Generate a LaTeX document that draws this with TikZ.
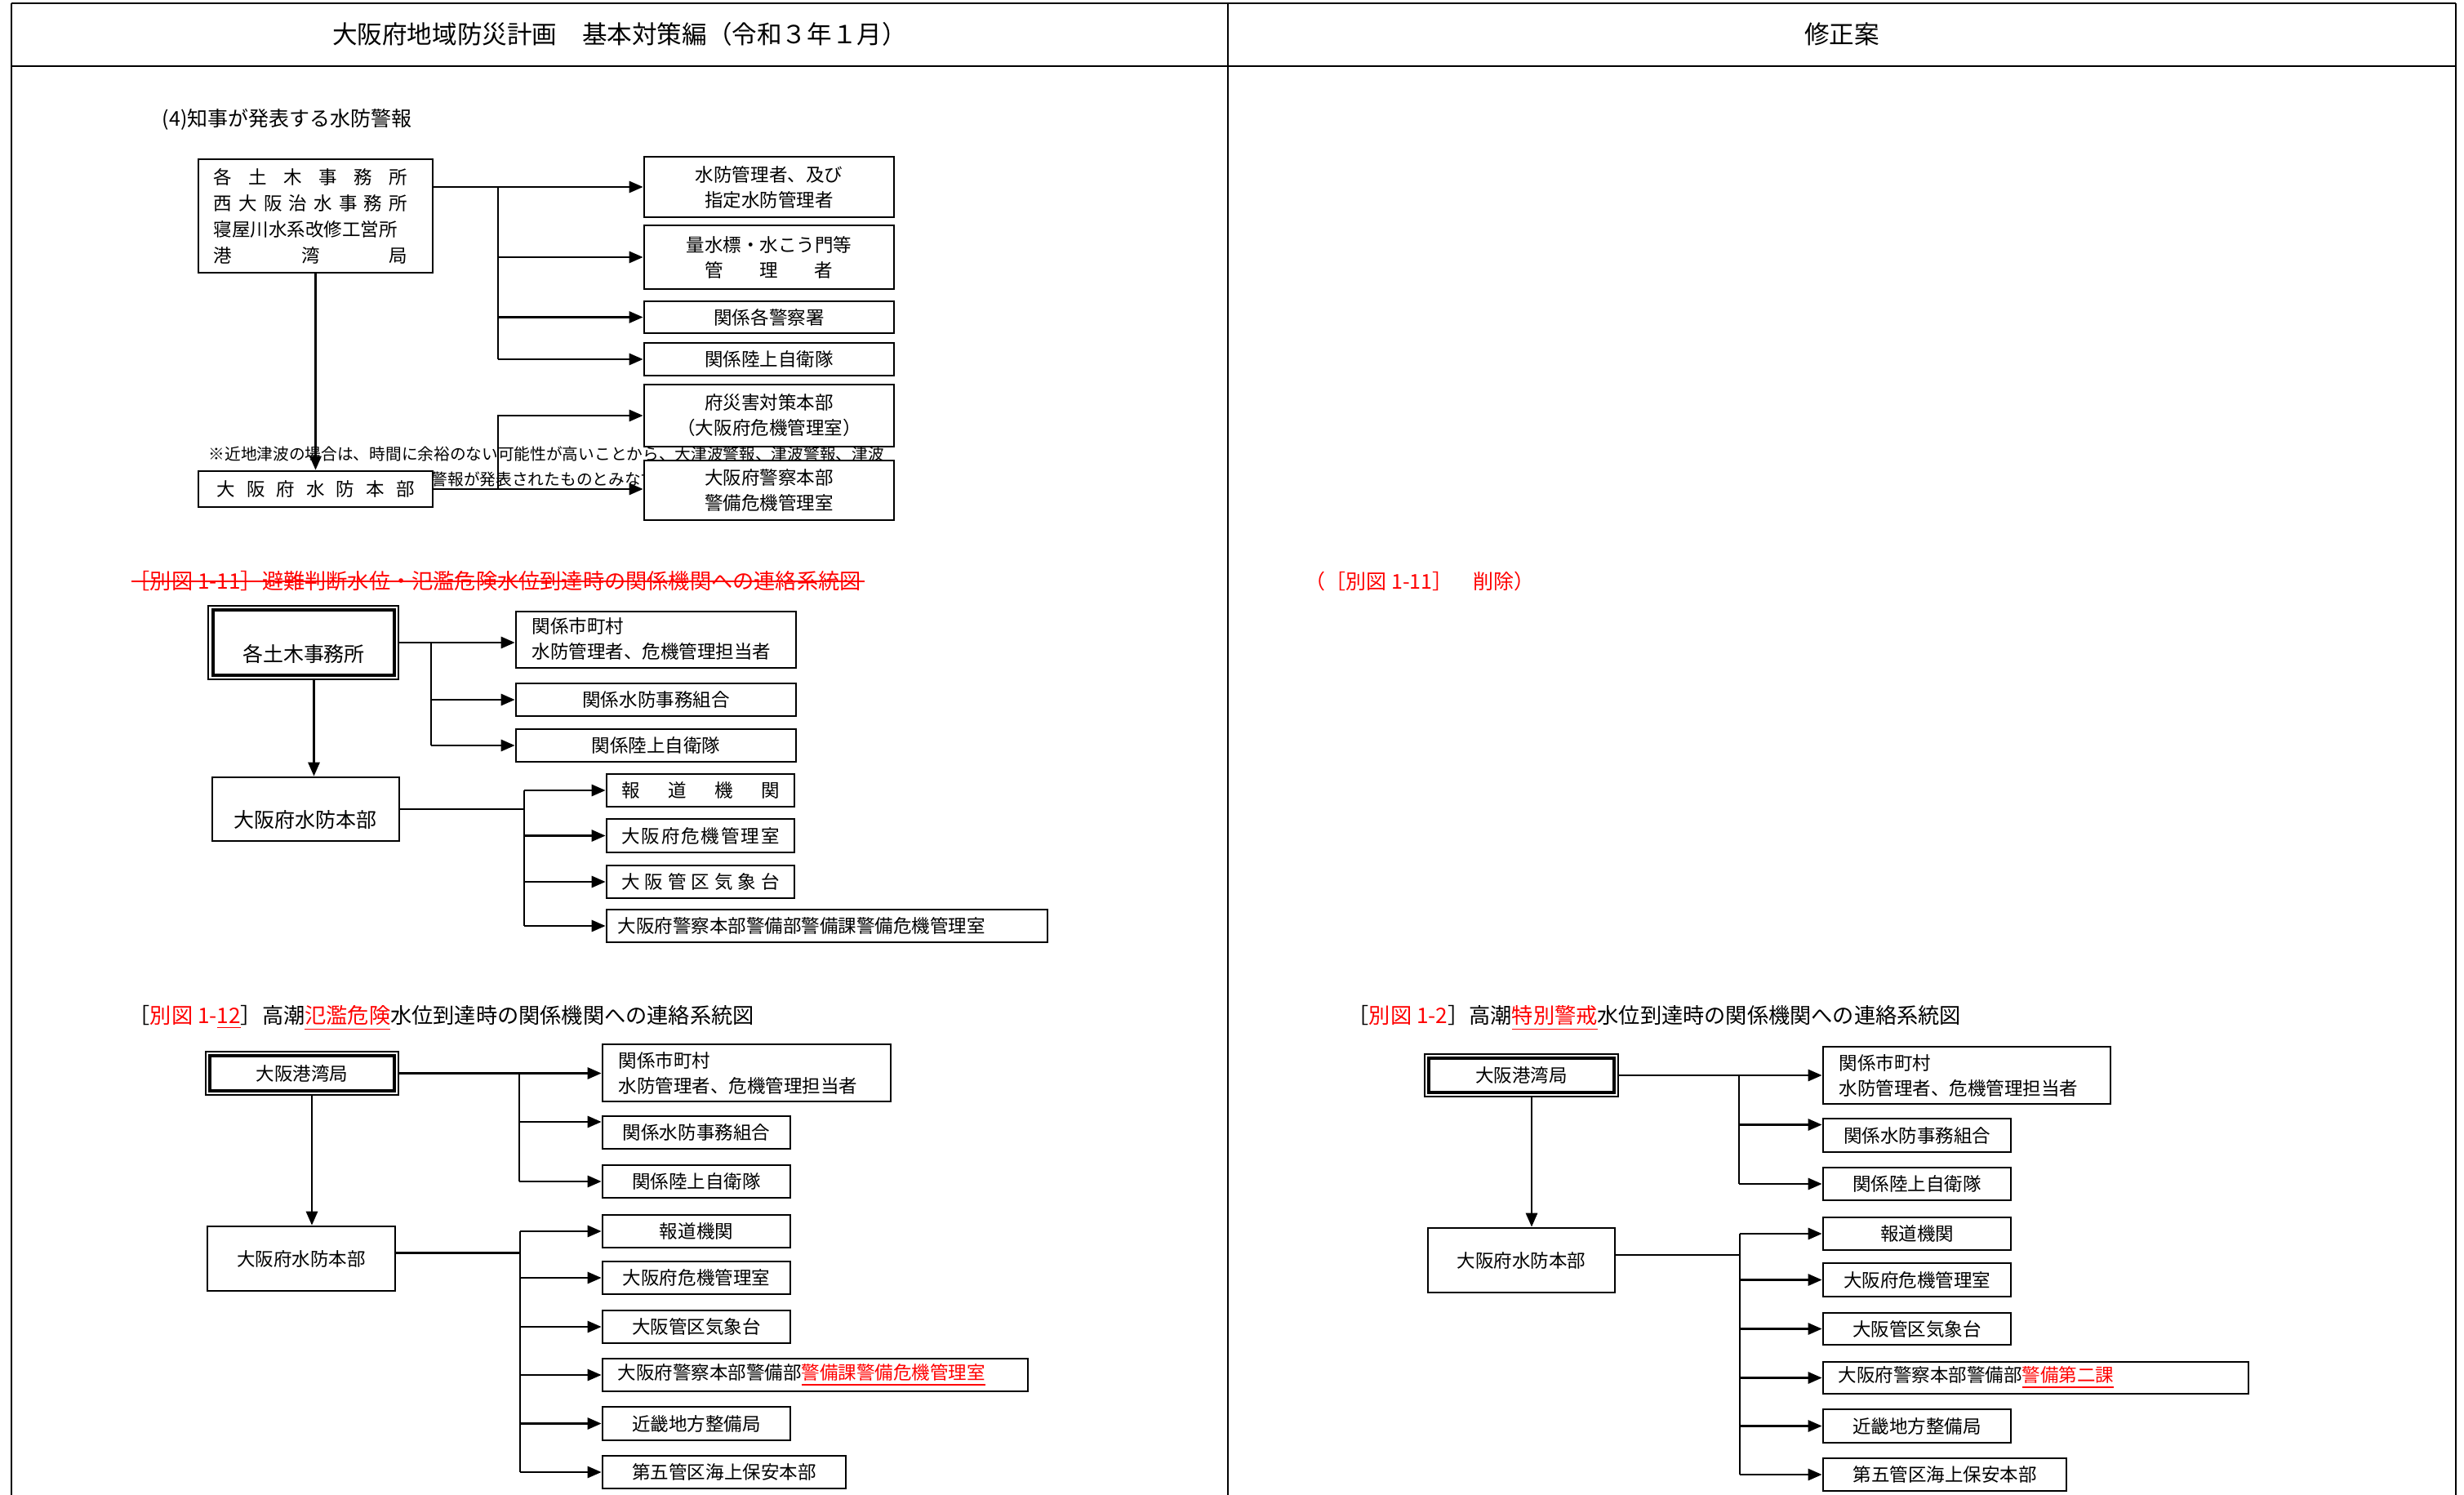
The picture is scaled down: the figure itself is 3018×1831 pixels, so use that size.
\documentclass[tikz,border=0pt]{standalone}
\usepackage{fontspec}
\setmainfont{Noto Sans CJK JP}
\usetikzlibrary{arrows.meta,fit}
\newcommand\fsBox{\fontsize{6.4pt}{8.8pt}\selectfont}
\newcommand\fsBoxW{\fontsize{6.4pt}{9.1pt}\selectfont}
\newcommand\fsSub{\fontsize{7.1pt}{9pt}\selectfont}
\newcommand\fsTitle{\fontsize{7.45pt}{9pt}\selectfont}
\newcommand\fsHead{\fontsize{8.7pt}{10pt}\selectfont}
\newcommand\fsNote{\fontsize{5.6pt}{7pt}\selectfont}
% box node (drawn by its corners) with its centred text as a second node
\newcommand\bx[4]{\node[box, fit={#2 #3}] (#1) {};\node[lbl, align=center] (#1t) at (#1.center) {#4};}
\begin{document}
\begin{tikzpicture}[x=0.01cm,y=-0.01cm,
  tablerule/.style={line width=0.6pt},
  box/.style={draw, fill=white, line width=0.75pt, inner sep=0pt},
  thinbox/.style={draw, fill=white, line width=0.45pt, inner sep=0pt},
  thickbox/.style={draw, line width=1.1pt, inner sep=0pt},
  conn/.style={line width=0.8pt},
  arr/.style={conn, -{Triangle[length=0.17cm,width=0.14cm]}},
  lbl/.style={inner sep=0pt, font=\fsBox},
  ttl/.style={inner sep=0pt, anchor=west, font=\fsTitle},
]
\useasboundingbox (0,0) rectangle (3018,1831);
% ---- table frame ----
\draw[tablerule] (14,4) -- (3008,4);
\draw[tablerule] (14,81) -- (3008,81);
\draw[tablerule] (14,4) -- (14,1831);
\draw[tablerule] (1504,4) -- (1504,1831);
\draw[tablerule] (3008,4) -- (3008,1831);
\node[font=\fsHead] (hl) at (759,42) {大阪府地域防災計画　基本対策編（令和３年１月）};
\node[font=\fsHead] (hr) at (2256,42) {修正案};

% ---- (4) ----
\node[ttl, font=\fsSub] (h4) at (198,146) {(4)知事が発表する水防警報};
\node[anchor=west, inner sep=0pt, font=\fsNote] (note1) at (255,556) {※近地津波の場合は、時間に余裕のない可能性が高いことから、大津波警報、津波警報、津波};
\node[anchor=west, inner sep=0pt, font=\fsNote] (note2) at (274,587) {注意報の発表をもって、水防警報が発表されたものとみなす。};

\node[box, fit={(243,195) (530,334)}] (tl) {};
\node[lbl, align=left, font=\fsBoxW] (tlt) at ([xshift=-0.06cm]tl.center) {\makebox[2.37cm]{各\hfill 土\hfill 木\hfill 事\hfill 務\hfill 所}\\\makebox[2.37cm]{西\hfill 大\hfill 阪\hfill 治\hfill 水\hfill 事\hfill 務\hfill 所}\\寝屋川水系改修工営所\\\makebox[2.37cm]{港\hfill 湾\hfill 局}};
\bx{r1}{(789,192)}{(1095,266)}{水防管理者、及び\\指定水防管理者}
\bx{r2}{(789,276)}{(1095,354)}{量水標・水こう門等\\\makebox[1.56cm]{管\hfill 理\hfill 者}}
\bx{r3}{(789,369)}{(1095,408)}{関係各警察署}
\bx{r4}{(789,420)}{(1095,460)}{関係陸上自衛隊}
\bx{r5}{(789,471)}{(1095,547)}{府災害対策本部\\（大阪府危機管理室）}
\bx{r6}{(789,564)}{(1095,637)}{大阪府警察本部\\警備危機管理室}
\bx{hq}{(243,577)}{(530,621)}{\makebox[2.42cm]{大\hfill 阪\hfill 府\hfill 水\hfill 防\hfill 本\hfill 部}}

\coordinate (j4) at (610,0);
\draw[arr] (tl.east |- r1.west) -- (r1.west);
\draw[conn] (j4 |- r1.west) -- (j4 |- r4.west);
\draw[arr] (j4 |- r2.west) -- (r2.west);
\draw[arr] (j4 |- r3.west) -- (r3.west);
\draw[arr] (j4 |- r4.west) -- (r4.west);
\draw[arr] (tl.south) -- (hq.north);
\draw[arr] (hq.east) -- (hq.east -| r6.west);
\draw[arr] (j4 |- hq.east) |- (r5.west);

% ---- 1-11 (deleted) ----
\node[ttl, text=red] (t11) at (157,712) {［別図 1-11］避難判断水位・氾濫危険水位到達時の関係機関への連絡系統図};
\draw[red, line width=0.6pt] ([xshift=0.04cm]t11.west) -- ([xshift=0.04cm]t11.east);

\node[thinbox, fit={(255,742) (488,832)}] (d1) {};
\node[thickbox, fit={(261,747) (483,827)}] (d1i) {};
\node[lbl, font=\fsSub] (d1t) at (372,801) {各土木事務所};
\node[box, fit={(632,749) (975,818)}] (m1) {};
\node[lbl, anchor=west, align=left] (m1t) at (651,782) {関係市町村\\水防管理者、危機管理担当者};
\bx{m2}{(632,837)}{(975,877)}{関係水防事務組合}
\bx{m3}{(632,893)}{(975,933)}{関係陸上自衛隊}
\node[box, fit={(260,952) (489,1030)}] (h1) {};
\node[lbl, font=\fsSub] (h1t) at (374,1004) {大阪府水防本部};
\bx{p1}{(743,948)}{(973,988)}{\makebox[1.93cm]{報\hfill 道\hfill 機\hfill 関}}
\bx{p2}{(743,1003)}{(973,1044)}{\makebox[1.93cm]{大\hfill 阪\hfill 府\hfill 危\hfill 機\hfill 管\hfill 理\hfill 室}}
\bx{p3}{(743,1060)}{(973,1100)}{\makebox[1.93cm]{大\hfill 阪\hfill 管\hfill 区\hfill 気\hfill 象\hfill 台}}
\node[box, fit={(743,1114) (1283,1154)}] (p4) {};
\node[lbl, anchor=west] (p4t) at (756,1134) {大阪府警察本部警備部警備課警備危機管理室};

\coordinate (j11a) at (528,0);
\coordinate (j11b) at (642,0);
\draw[arr] (d1.east) -- (d1.east -| m1.west);
\draw[conn] (j11a |- d1.east) -- (j11a |- m3.west);
\draw[arr] (j11a |- m2.west) -- (m2.west);
\draw[arr] (j11a |- m3.west) -- (m3.west);
\draw[arr] ([xshift=0.13cm]d1.south) -- ([xshift=0.13cm]d1.south |- h1.north);
\draw[conn] (h1.east) -- (j11b |- h1.east);
\draw[conn] (j11b |- p1.west) -- (j11b |- p4.west);
\draw[arr] (j11b |- p1.west) -- (p1.west);
\draw[arr] (j11b |- p2.west) -- (p2.west);
\draw[arr] (j11b |- p3.west) -- (p3.west);
\draw[arr] (j11b |- p4.west) -- (p4.west);

\node[ttl, font=\fsSub, text=red] (del) at (1598,712) {（［別図 1-11］　削除）};

% ---- 1-12 (left) ----
\node[ttl] (t12) at (157,1247) {［\textcolor{red}{別図 1-\underline{12}}］高潮\textcolor{red}{\underline{氾濫危険}}水位到達時の関係機関への連絡系統図};
\node[thinbox, fit={(252,1288) (488,1341)}] (d2) {};
\node[thickbox, fit={(257,1293) (483,1336)}] (d2i) {};
\node[lbl] (d2t) at (d2i.center) {大阪港湾局};
\node[box, fit={(738,1279) (1091,1349)}] (n1) {};
\node[lbl, anchor=west, align=left] (n1t) at (757,1314) {関係市町村\\水防管理者、危機管理担当者};
\bx{n2}{(738,1367)}{(968,1407)}{関係水防事務組合}
\bx{n3}{(738,1427)}{(968,1467)}{関係陸上自衛隊}
\bx{h2}{(254,1502)}{(484,1581)}{大阪府水防本部}
\bx{s1}{(738,1488)}{(968,1528)}{報道機関}
\bx{s2}{(738,1545)}{(968,1585)}{大阪府危機管理室}
\bx{s3}{(738,1605)}{(968,1645)}{大阪管区気象台}
\node[box, fit={(738,1664) (1259,1704)}] (s4) {};
\node[lbl, anchor=west] (s4t) at (756,1684) {大阪府警察本部警備部\textcolor{red}{\underline{警備課警備危機管理室}}};
\bx{s5}{(738,1723)}{(968,1764)}{近畿地方整備局}
\bx{s6}{(738,1783)}{(1036,1823)}{第五管区海上保安本部}

\coordinate (j12a) at (636,0);
\coordinate (j12b) at (637,0);
\coordinate (n2in) at ([yshift=0.13cm]n2.west);
\coordinate (h2out) at ([yshift=0.07cm]h2.east);
\draw[arr] (d2.east) -- (d2.east -| n1.west);
\draw[conn] (j12a |- d2.east) -- (j12a |- n3.west);
\draw[arr] (j12a |- n2in) -- (n2in);
\draw[arr] (j12a |- n3.west) -- (n3.west);
\draw[arr] ([xshift=0.12cm]d2.south) -- ([xshift=0.12cm]d2.south |- h2.north);
\draw[conn] (h2out) -- (j12b |- h2out);
\draw[conn] (j12b |- s1.west) -- (j12b |- s6.west);
\draw[arr] (j12b |- s1.west) -- (s1.west);
\draw[arr] (j12b |- s2.west) -- (s2.west);
\draw[arr] (j12b |- s3.west) -- (s3.west);
\draw[arr] (j12b |- s4.west) -- (s4.west);
\draw[arr] (j12b |- s5.west) -- (s5.west);
\draw[arr] (j12b |- s6.west) -- (s6.west);

% ---- 1-2 (right) ----
\node[ttl] (t2) at (1650,1247) {［\textcolor{red}{別図 1-2}］高潮\textcolor{red}{\underline{特別警戒}}水位到達時の関係機関への連絡系統図};
\node[thinbox, fit={(1745,1291) (1982,1343)}] (d3) {};
\node[thickbox, fit={(1750,1296) (1977,1338)}] (d3i) {};
\node[lbl] (d3t) at (d3i.center) {大阪港湾局};
\node[box, fit={(2233,1282) (2585,1352)}] (q1) {};
\node[lbl, anchor=west, align=left] (q1t) at (2252,1317) {関係市町村\\水防管理者、危機管理担当者};
\bx{q2}{(2233,1370)}{(2463,1411)}{関係水防事務組合}
\bx{q3}{(2233,1430)}{(2463,1470)}{関係陸上自衛隊}
\bx{h3}{(1749,1504)}{(1978,1583)}{大阪府水防本部}
\bx{u1}{(2233,1491)}{(2463,1531)}{報道機関}
\bx{u2}{(2233,1547)}{(2463,1588)}{大阪府危機管理室}
\bx{u3}{(2233,1608)}{(2463,1647)}{大阪管区気象台}
\node[box, fit={(2233,1668) (2754,1707)}] (u4) {};
\node[lbl, anchor=west] (u4t) at (2251,1687) {大阪府警察本部警備部\textcolor{red}{\underline{警備第二課}}};
\bx{u5}{(2233,1726)}{(2463,1767)}{近畿地方整備局}
\bx{u6}{(2233,1786)}{(2531,1826)}{第五管区海上保安本部}

\coordinate (j2a) at (2130,0);
\coordinate (j2b) at (2131,0);
\coordinate (q2in) at ([yshift=0.13cm]q2.west);
\coordinate (h3out) at ([yshift=0.065cm]h3.east);
\draw[arr] (d3.east) -- (d3.east -| q1.west);
\draw[conn] (j2a |- d3.east) -- (j2a |- q3.west);
\draw[arr] (j2a |- q2in) -- (q2in);
\draw[arr] (j2a |- q3.west) -- (q3.west);
\draw[arr] ([xshift=0.125cm]d3.south) -- ([xshift=0.125cm]d3.south |- h3.north);
\draw[conn] (h3out) -- (j2b |- h3out);
\draw[conn] (j2b |- u1.west) -- (j2b |- u6.west);
\draw[arr] (j2b |- u1.west) -- (u1.west);
\draw[arr] (j2b |- u2.west) -- (u2.west);
\draw[arr] (j2b |- u3.west) -- (u3.west);
\draw[arr] (j2b |- u4.west) -- (u4.west);
\draw[arr] (j2b |- u5.west) -- (u5.west);
\draw[arr] (j2b |- u6.west) -- (u6.west);
\end{tikzpicture}
\end{document}
